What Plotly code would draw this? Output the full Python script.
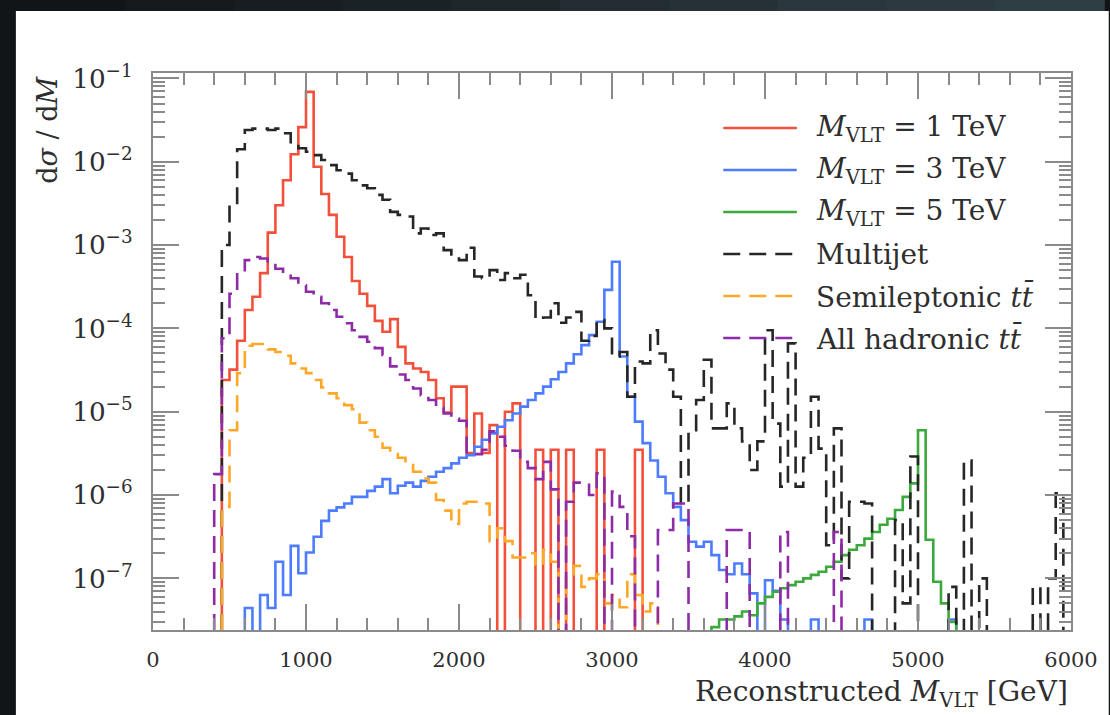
import numpy as np
import plotly.graph_objects as go

# ---------------- data (dsigma/dM per 50 GeV bin) ----------------
BIN_WIDTH = 50  # GeV

red_start = 450   # M_VLT = 1 TeV
red_vals = [2.4e-5, 3.2e-5, 7.1e-5, 1.66e-4, 2.4e-4, 4.6e-4, 1.41e-3, 3.0e-3, 6.0e-3, 1.23e-2,
            2.6e-2, 6.9e-2, 8.7e-3, 4.1e-3, 2.3e-3, 1.26e-3, 7.2e-4, 3.7e-4, 2.6e-4, 1.86e-4,
            1.23e-4, 9.1e-5, 1.29e-4, 6.0e-5, 3.8e-5, 3.3e-5, 3.0e-5, 2.4e-5, 1.45e-5, 9.8e-6,
            2.0e-5, 2.0e-5, 3.2e-6, 9.5e-6, 3.2e-6, 6.9e-6, 0, 1.0e-5, 1.26e-5, 0,
            0, 3.5e-6, 0, 3.5e-6, 0, 3.5e-6, 0, 0, 0, 3.5e-6,
            0, 0, 0, 0, 3.5e-6]

blue_start = 600  # M_VLT = 3 TeV
blue_vals = [4.4e-8, 0, 6.3e-8, 4.4e-8, 1.58e-7, 6.3e-8, 2.45e-7, 1.15e-7, 2.04e-7, 3.16e-7,
             4.9e-7, 6.5e-7, 7.1e-7, 7.9e-7, 9.5e-7, 9.5e-7, 1.12e-6, 1.26e-6, 1.55e-6, 1.05e-6,
             1.29e-6, 1.41e-6, 1.26e-6, 1.48e-6, 1.66e-6, 1.9e-6, 2.1e-6, 2.4e-6, 2.8e-6, 3.0e-6,
             3.8e-6, 4.6e-6, 5.5e-6, 6.6e-6, 7.9e-6, 9.5e-6, 1.15e-5, 1.38e-5, 1.66e-5, 2.0e-5,
             2.45e-5, 3.0e-5, 3.8e-5, 4.9e-5, 6.3e-5, 8.3e-5, 1.2e-4, 2.9e-4, 6.3e-4, 4.6e-5,
             1.51e-5, 7.6e-6, 4.2e-6, 2.6e-6, 1.66e-6, 1.05e-6, 7.2e-7, 5.0e-7, 2.75e-7, 2.4e-7,
             2.75e-7, 1.9e-7, 1.26e-7, 1.12e-7, 1.51e-7, 1.12e-7, 6.6e-8, 0, 9.5e-8, 7.1e-8,
             3.2e-8, 0, 0, 0, 3.2e-8, 0, 0, 0, 0, 0,
             0, 3.2e-8, 0, 0, 0, 0, 0, 0, 0, 0,
             0, 0, 3.2e-8]

green_start = 3650  # M_VLT = 5 TeV
green_vals = [2.6e-8, 3.2e-8, 3.2e-8, 3.5e-8, 4.0e-8, 3.6e-8, 5.0e-8, 6.0e-8, 6.9e-8, 7.6e-8,
              8.3e-8, 9.1e-8, 1.0e-7, 1.1e-7, 1.2e-7, 1.38e-7, 1.58e-7, 1.9e-7, 2.2e-7, 2.5e-7,
              3.0e-7, 3.6e-7, 4.4e-7, 5.2e-7, 6.6e-7, 9.5e-7, 1.38e-6, 6.0e-6, 2.9e-7, 9.1e-8,
              5.0e-8, 3.0e-8]

multijet_start = 450
multijet_vals = [1.0e-3, 3.2e-3, 1.41e-2, 2.4e-2, 2.5e-2, 2.5e-2, 2.4e-2, 2.5e-2, 2.2e-2, 1.66e-2,
                 1.45e-2, 1.32e-2, 1.2e-2, 1.05e-2, 9.1e-3, 7.9e-3, 7.2e-3, 6.0e-3, 5.2e-3, 4.8e-3,
                 4.0e-3, 3.5e-3, 2.5e-3, 2.3e-3, 2.2e-3, 1.38e-3, 1.58e-3, 1.32e-3, 1.38e-3, 8.7e-4,
                 6.9e-4, 6.6e-4, 9.3e-4, 4.2e-4, 4.0e-4, 5.0e-4, 3.8e-4, 4.6e-4, 4.0e-4, 4.4e-4,
                 2.5e-4, 1.29e-4, 1.35e-4, 2.0e-4, 1.17e-4, 1.35e-4, 1.58e-4, 7.1e-5, 8.1e-5, 1.26e-4,
                 1.0e-4, 4.6e-5, 5.2e-5, 1.51e-5, 4.0e-5, 3.8e-5, 9.5e-5, 5.0e-5, 3.2e-5, 1.51e-5,
                 7.9e-7, 6.0e-6, 1.38e-5, 4.2e-5, 6.3e-6, 6.3e-6, 1.26e-5, 6.3e-6, 4.4e-6, 2.0e-6,
                 4.4e-6, 9.5e-5, 7.2e-6, 1.26e-6, 6.6e-5, 1.26e-6, 2.8e-6, 1.51e-5, 3.6e-6, 2.5e-7,
                 6.3e-6, 1.0e-7, 8.3e-7, 8.3e-7, 7.9e-7, 0, 0, 0, 5.0e-7, 5.0e-8,
                 2.9e-6, 0, 0, 0, 0, 7.9e-8, 0, 2.6e-6, 0, 1.0e-7,
                 0, 0, 0, 0, 0, 0, 7.9e-8, 0, 1.0e-7, 1.05e-6]

semilep_start = 450
semilep_vals = [7.2e-7, 6.0e-6, 2.9e-5, 6.2e-5, 6.5e-5, 6.5e-5, 5.6e-5, 5.2e-5, 4.7e-5, 3.8e-5,
                3.3e-5, 2.9e-5, 2.4e-5, 1.95e-5, 1.66e-5, 1.45e-5, 1.2e-5, 1.07e-5, 7.4e-6, 6.0e-6,
                5.0e-6, 3.7e-6, 3.1e-6, 2.8e-6, 2.4e-6, 1.9e-6, 1.58e-6, 1.41e-6, 8.7e-7, 6.5e-7,
                4.5e-7, 7.9e-7, 8.3e-7, 8.3e-7, 7.9e-7, 2.8e-7, 4.0e-7, 2.8e-7, 1.78e-7, 1.78e-7,
                2.0e-7, 1.41e-7, 2.2e-7, 1.58e-7, 0, 1.0e-7, 1.41e-7, 7.9e-8, 1.0e-7, 1.12e-7,
                5.0e-8, 6.3e-8, 4.5e-8, 1.12e-7, 6.3e-8, 4.0e-8, 5.0e-8]

allhad_start = 400
allhad_vals = [1.78e-6, 7.6e-5, 2.6e-4, 4.8e-4, 6.6e-4, 7.2e-4, 6.9e-4, 6.0e-4, 5.2e-4, 4.6e-4,
               4.0e-4, 3.3e-4, 2.75e-4, 2.4e-4, 2.0e-4, 1.66e-4, 1.38e-4, 1.15e-4, 9.5e-5, 7.9e-5,
               6.9e-5, 5.8e-5, 4.8e-5, 3.5e-5, 2.8e-5, 2.4e-5, 1.9e-5, 1.58e-5, 1.38e-5, 1.12e-5,
               9.5e-6, 8.3e-6, 7.8e-6, 3.1e-6, 3.1e-6, 3.5e-6, 5.8e-6, 5.0e-6, 3.9e-6, 3.4e-6,
               2.5e-6, 2.1e-6, 1.55e-6, 2.5e-6, 1.17e-6, 0, 8.3e-7, 1.41e-6, 1.41e-6, 1.0e-6,
               1.82e-6, 0, 1.1e-6, 7.2e-7, 3.2e-7, 0, 0, 0, 3.8e-7, 3.8e-7,
               7.9e-7, 7.9e-7, 0, 0, 0, 0, 0, 3.8e-7, 3.8e-7, 3.8e-7,
               0, 0, 0, 0, 3.6e-7, 0, 0, 0, 0, 0,
               0, 3.6e-7]

series_names = ["<i>M</i><sub>VLT</sub> = 1 TeV", "<i>M</i><sub>VLT</sub> = 3 TeV",
                "<i>M</i><sub>VLT</sub> = 5 TeV", "Multijet",
                "Semileptonic <i>tt̄</i>", "All hadronic <i>tt̄</i>"]

x_ticks = [0, 1000, 2000, 3000, 4000, 5000, 6000]

# ---------------- styles ----------------
FONT = "DejaVu Serif"
AX = "#8a8a8a"
TXT = "#2e2e2e"
DASH = "17px,9px"
styles = [
    dict(color="#F2503A", dash="solid"),
    dict(color="#4D7CFF", dash="solid"),
    dict(color="#3BA93B", dash="solid"),
    dict(color="#262626", dash=DASH),
    dict(color="#FFA726", dash=DASH),
    dict(color="#8E2BA6", dash=DASH),
]
FLOOR = 1e-12


def step_xy(start, vals):
    v = np.asarray(vals, dtype=float)
    v = np.where(v > 0, v, FLOOR)
    edges = start + BIN_WIDTH * np.arange(len(v) + 1)
    x = np.concatenate([[edges[0]], edges[:-1], [edges[-1], edges[-1]]])
    y = np.concatenate([[FLOOR], v, [v[-1], FLOOR]])
    return x, y


data = [(red_start, red_vals), (blue_start, blue_vals), (green_start, green_vals),
        (multijet_start, multijet_vals), (semilep_start, semilep_vals), (allhad_start, allhad_vals)]

fig = go.Figure()
for (start, vals), name, st in zip(data, series_names, styles):
    x, y = step_xy(start, vals)
    fig.add_trace(go.Scatter(x=x, y=y, mode="lines", name=name, showlegend=False,
                             line=dict(color=st["color"], width=2.6, dash=st["dash"], shape="hv")))

W, H = 1110, 715
ML, MR, MT, MB = 153, 33, 73, 85
PW, PH = W - ML - MR, H - MT - MB


def px_x(p):
    return (p - ML) / PW


def px_y(p):
    return 1 - (p - MT) / PH


shapes = []
# dark top strip with a faint gradient (photo frame look)
top_cols = ["#121518", "#15191c", "#181d21", "#1b2226", "#1f272b", "#222c31",
            "#263136", "#29363b", "#2c3a40", "#2f3e44"]
nseg = len(top_cols)
for i, c in enumerate(top_cols):
    x0 = 15 + (W - 15) * i / nseg
    x1 = 15 + (W - 15) * (i + 1) / nseg + 1
    shapes.append(dict(type="rect", xref="paper", yref="paper", layer="below",
                       x0=px_x(x0), x1=px_x(x1), y0=px_y(11), y1=px_y(-2),
                       fillcolor=c, line=dict(width=0)))
shapes.append(dict(type="rect", xref="paper", yref="paper", layer="below",
                   x0=px_x(15), x1=px_x(W + 5), y0=px_y(H + 5), y1=px_y(11),
                   fillcolor="white", line=dict(width=0)))
annotations = []

# custom legend (long line samples as in the reference)
rows = [128, 170, 212, 254, 296, 338]
for r, name, st in zip(rows, series_names, styles):
    shapes.append(dict(type="line", xref="paper", yref="paper",
                       x0=px_x(727), x1=px_x(801), y0=px_y(r), y1=px_y(r),
                       line=dict(color=st["color"], width=2.6, dash=st["dash"])))
    annotations.append(dict(xref="paper", yref="paper", x=px_x(818), y=px_y(r),
                            xanchor="left", yanchor="middle", text=name, showarrow=False,
                            font=dict(family=FONT, size=28, color=TXT)))

annotations.append(dict(xref="paper", yref="paper", x=px_x(46), y=px_y(74),
                        xanchor="center", yanchor="top", textangle=-90,
                        text="d<i>σ</i> / d<i>M</i>", showarrow=False,
                        font=dict(family=FONT, size=27, color=TXT)))
annotations.append(dict(xref="paper", yref="paper", x=px_x(1076), y=px_y(694),
                        xanchor="right", yanchor="middle",
                        text="Reconstructed <i>M</i><sub>VLT</sub> [GeV]", showarrow=False,
                        font=dict(family=FONT, size=28, color=TXT)))

axis_common = dict(showline=True, linecolor=AX, linewidth=2.2, mirror="allticks",
                   ticks="inside", tickcolor=AX, tickwidth=1.8, ticklen=26,
                   showgrid=False, zeroline=False,
                   tickfont=dict(family=FONT, size=21, color=TXT))

fig.update_layout(
    width=W, height=H,
    margin=dict(l=ML, r=MR, t=MT, b=MB),
    paper_bgcolor="#121518", plot_bgcolor="white",
    shapes=shapes, annotations=annotations, showlegend=False,
    xaxis=dict(range=[0, 6000], tickvals=x_ticks, ticktext=[str(t) for t in x_ticks],
               ticklabelstandoff=10,
               minor=dict(ticks="inside", dtick=200, ticklen=12, tickcolor=AX, tickwidth=1.5),
               **axis_common),
    yaxis=dict(type="log", range=[-7.62, -0.935], dtick=1, exponentformat="power",
               ticklabelstandoff=14,
               minor=dict(ticks="inside", dtick="D1", ticklen=12, tickcolor=AX, tickwidth=1.5),
               **axis_common),
)

fig.write_html("out.html")
